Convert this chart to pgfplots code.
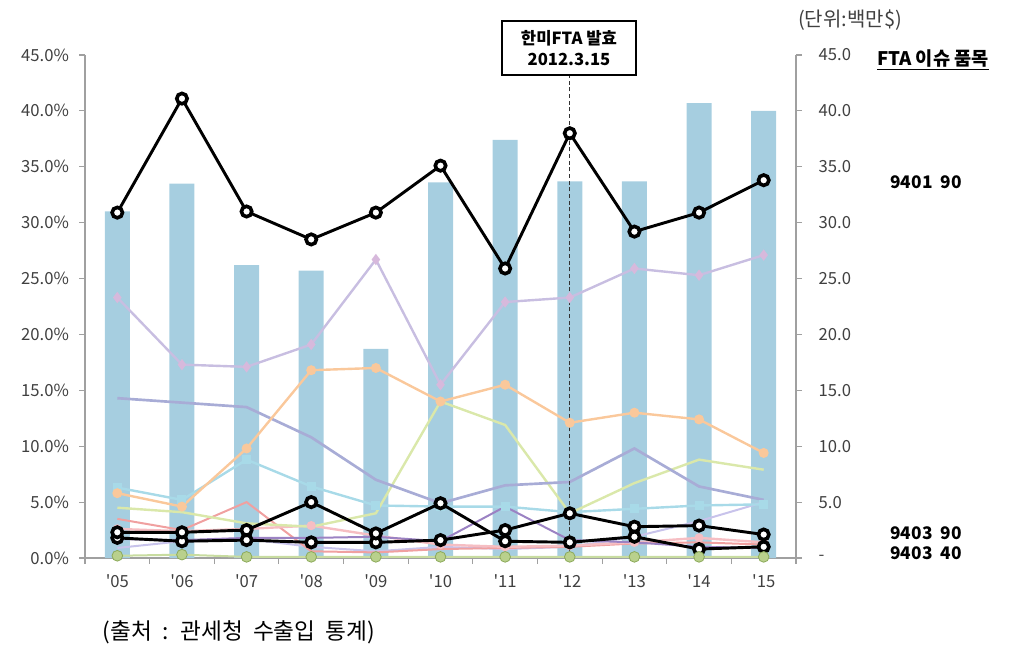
\documentclass[border=0pt]{standalone}
\usepackage{fontspec}
\setmainfont{Noto Sans CJK KR}
\usepackage{pgfplots}
\usepackage{pgfplotstable}
\pgfplotsset{compat=1.18}

\definecolor{barblue}{RGB}{166,206,224}
\definecolor{axgray}{RGB}{160,160,160}
\definecolor{labgray}{RGB}{64,64,64}
\definecolor{lavline}{RGB}{200,190,225}
\definecolor{lavmark}{RGB}{215,185,220}
\definecolor{peach}{RGB}{250,200,155}
\definecolor{slate}{RGB}{168,172,214}
\definecolor{ygreen}{RGB}{218,232,170}
\definecolor{cyanl}{RGB}{168,218,232}
\definecolor{salmon}{RGB}{240,160,160}
\definecolor{lpink}{RGB}{246,190,195}
\definecolor{purplel}{RGB}{155,130,195}
\definecolor{lilac}{RGB}{200,195,235}
\definecolor{gfill}{RGB}{185,208,140}
\definecolor{gdraw}{RGB}{140,170,90}
\definecolor{gline}{RGB}{200,220,160}

\pgfplotstableread{
x bar s1 lav peach slate yg cyan salmon lpink purple lilac green blkB blkA
0 31.0 30.9 23.3 5.8 14.3 4.5 6.3 3.5 2.6 1.7 0.9 0.2 1.8 2.3
1 33.5 41.1 17.3 4.6 13.9 4.1 5.2 2.5 2.4 1.6 1.5 0.3 1.5 2.3
2 26.2 31.0 17.1 9.8 13.5 3.1 8.8 5.0 2.6 1.8 1.7 0.1 1.6 2.5
3 25.7 28.5 19.1 16.8 10.8 2.8 6.4 0.6 2.9 1.8 1.0 0.1 1.4 5.0
4 18.7 30.9 26.7 17.0 7.0 4.0 4.7 0.5 2.0 1.9 0.6 0.1 1.4 2.2
5 33.6 35.1 15.5 14.0 4.9 14.0 4.6 0.8 1.2 1.5 1.0 0.1 1.6 4.9
6 37.4 25.9 22.9 15.5 6.5 11.9 4.6 0.9 1.0 4.6 0.8 0.1 2.5 1.5
7 33.7 38.0 23.3 12.1 6.8 4.0 4.1 1.0 1.1 1.6 1.0 0.1 4.0 1.4
8 33.7 29.2 25.9 13.0 9.8 6.7 4.4 1.3 1.4 1.4 1.9 0.1 2.8 1.9
9 40.7 30.9 25.3 12.4 6.4 8.8 4.7 1.4 1.8 1.0 3.3 0.1 2.9 0.8
10 40.0 33.8 27.1 9.4 5.2 7.9 4.8 1.2 1.4 0.9 5.0 0.1 2.1 1.0
}\data

\begin{document}
\begin{tikzpicture}
\useasboundingbox (-63.75pt,-80.25pt) rectangle (699pt,418.5pt);
\begin{axis}[
  at={(0,0)}, anchor=south west,
  scale only axis, width=533.25pt, height=377.25pt,
  xmin=-0.5, xmax=10.5, ymin=0, ymax=45,
  axis x line*=bottom, axis y line*=left,
  axis line style={-, draw=axgray, line width=0.8pt},
  tick style={draw=axgray, line width=0.8pt},
  tick align=outside, major tick length=4.5pt,
  xtick={-0.5,0.5,...,10.5}, xticklabels={},
  extra x ticks={0,1,2,3,4,5,6,7,8,9,10},
  extra x tick labels={\textquotesingle05,\textquotesingle06,\textquotesingle07,\textquotesingle08,\textquotesingle09,\textquotesingle10,\textquotesingle11,\textquotesingle12,\textquotesingle13,\textquotesingle14,\textquotesingle15},
  extra x tick style={major tick length=0pt, tick style={draw=none}, xticklabel style={yshift=-9pt}},
  ytick={0,5,...,45},
  yticklabels={0.0\%,5.0\%,10.0\%,15.0\%,20.0\%,25.0\%,30.0\%,35.0\%,40.0\%,45.0\%},
  tick label style={font=\fontsize{12.5}{14}\selectfont, text=labgray},
  yticklabel style={xshift=-4pt},
  clip=false,
]
\addplot[ybar, bar width=18.75pt, bar shift=0pt, fill=barblue, draw=none] table[x=x,y=bar]{\data};
\addplot[color=gline, line width=1.5pt, mark=none] table[x=x,y=green]{\data};
\addplot[color=lilac, line width=1.5pt, mark=none] table[x=x,y=lilac]{\data};
\addplot[color=salmon, line width=1.5pt, mark=none] table[x=x,y=salmon]{\data};
\addplot[color=lpink, line width=1.8pt, mark=*, mark size=2.5pt, mark options={fill=lpink,draw=lpink}] table[x=x,y=lpink]{\data};
\addplot[color=purplel, line width=1.5pt, mark=none] table[x=x,y=purple]{\data};
\addplot[color=cyanl, line width=1.8pt, mark=square*, mark size=2.5pt, mark options={fill=cyanl,draw=cyanl}] table[x=x,y=cyan]{\data};
\addplot[color=ygreen, line width=1.8pt, mark=none] table[x=x,y=yg]{\data};
\addplot[color=slate, line width=2pt, mark=none] table[x=x,y=slate]{\data};
\addplot[color=peach, line width=1.8pt, mark=*, mark size=2.8pt, mark options={fill=peach,draw=peach}] table[x=x,y=peach]{\data};
\addplot[color=lavline, line width=1.8pt, mark=diamond*, mark size=2.8pt, mark options={fill=lavmark,draw=lavmark}] table[x=x,y=lav]{\data};
\addplot[color=black, line width=2.2pt, mark=*, mark size=3.9pt, mark options={fill=white, draw=black, line width=2.7pt}] table[x=x,y=blkB]{\data};
\addplot[color=black, line width=2.2pt, mark=*, mark size=3.9pt, mark options={fill=white, draw=black, line width=2.7pt}] table[x=x,y=blkA]{\data};
\addplot[color=black, line width=2.2pt, mark=*, mark size=3.9pt, mark options={fill=white, draw=black, line width=2.7pt}] table[x=x,y=s1]{\data};
\addplot[draw=none, mark=*, mark size=4pt, mark options={fill=gfill, draw=gdraw, line width=0.6pt}] table[x=x,y=green]{\data};
\draw[color=black!80, line width=0.8pt, dash pattern=on 3pt off 2pt] (axis cs:7,0) -- (axis cs:7,43.3);
\end{axis}
\begin{axis}[
  at={(0,0)}, anchor=south west,
  scale only axis, width=533.25pt, height=377.25pt,
  xmin=-0.5, xmax=10.5, ymin=0, ymax=45,
  axis x line=none, axis y line*=right,
  axis line style={-, draw=axgray, line width=0.8pt},
  tick style={draw=axgray, line width=0.8pt},
  tick align=outside, major tick length=4.5pt,
  ytick={0,5,...,45},
  yticklabels={-,5.0,10.0,15.0,20.0,25.0,30.0,35.0,40.0,45.0},
  tick label style={font=\fontsize{12.5}{14}\selectfont, text=labgray},
  yticklabel style={xshift=9pt},
]
\addplot[draw=none] coordinates {(0,0)};
\end{axis}
\node[draw=black, line width=1.2pt, fill=white, align=center, font=\bfseries\fontsize{12.5}{15.5}\selectfont, minimum width=100.5pt, minimum height=40.5pt, inner sep=2pt] at (363pt,382.5pt) {한미FTA 발효\\2012.3.15};
\node[font=\fontsize{15}{17}\selectfont, text=labgray] at (573.75pt,403.5pt) {(단위:백만\$)};
\node[font=\bfseries\fontsize{14}{16}\selectfont] at (636pt,373.5pt) {\underline{FTA 이슈 품목}};
\node[font=\bfseries\fontsize{13}{15}\selectfont] at (630.75pt,282pt) {9401\ \ 90};
\node[font=\bfseries\fontsize{13}{15}\selectfont] at (630.75pt,18.75pt) {9403\ \ 90};
\node[font=\bfseries\fontsize{13}{15}\selectfont] at (630.75pt,3.75pt) {9403\ \ 40};
\node[font=\fontsize{17}{20}\selectfont] at (115.5pt,-55.5pt) {(출처 \ : \ 관세청 \ 수출입 \ 통계)};
\end{tikzpicture}
\end{document}
